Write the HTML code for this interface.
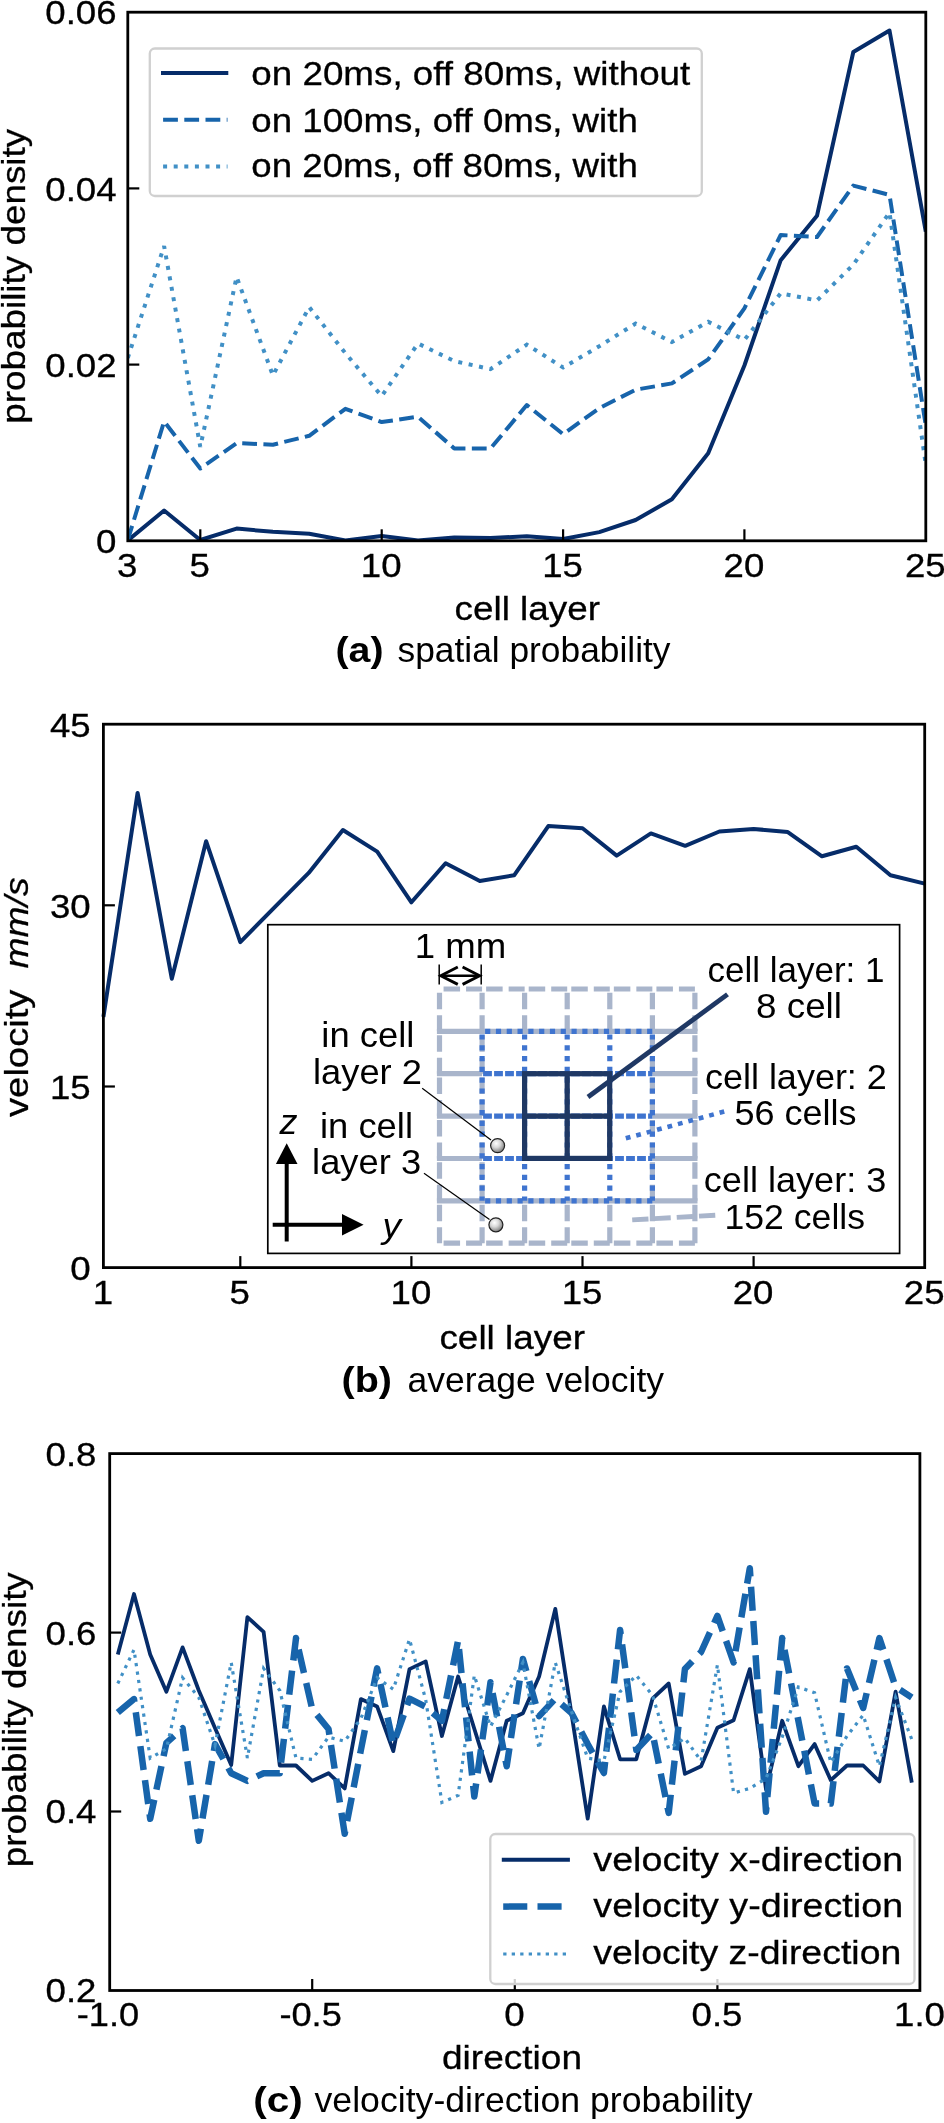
<!DOCTYPE html>
<html><head><meta charset="utf-8"><title>figure</title>
<style>html,body{margin:0;padding:0;background:#fff}svg{display:block;will-change:transform}text{font-family:"Liberation Sans",sans-serif;fill:#000}text.m{stroke:#000;stroke-width:0.3px}</style>
</head><body>
<svg width="944" height="2123" viewBox="0 0 944 2123">
<rect width="944" height="2123" fill="#fff"/>
<g id="chartA">
<clipPath id="ca"><rect x="127.8" y="12.2" width="798.0" height="528.6"/></clipPath>
<g clip-path="url(#ca)">
<path d="M127.8 540.5 L164.1 510.5 L200.3 540.0 L236.6 528.6 L272.9 531.8 L309.2 533.7 L345.4 540.5 L381.7 535.9 L418.0 540.5 L454.3 537.5 L490.5 538.0 L526.8 536.2 L563.1 539.0 L599.3 532.1 L635.6 520.0 L671.9 499.3 L708.2 453.3 L744.4 365.5 L780.7 260.2 L817.0 215.7 L853.3 52.0 L889.5 30.5 L925.8 231.6" fill="none" stroke="#062c69" stroke-width="4" stroke-linecap="butt" stroke-linejoin="round"/>
<path d="M127.8 540.0 L164.1 421.5 L200.3 468.5 L236.6 443.1 L272.9 444.7 L309.2 435.8 L345.4 408.8 L381.7 422.1 L418.0 416.7 L454.3 448.5 L490.5 448.5 L526.8 405.0 L563.1 434.2 L599.3 408.2 L635.6 389.7 L671.9 383.4 L708.2 359.4 L744.4 308.3 L780.7 235.0 L817.0 237.0 L853.3 185.6 L889.5 194.9 L925.8 425.6" fill="none" stroke="#1764ab" stroke-width="4" stroke-dasharray="14.8 6.4" stroke-linecap="butt" stroke-linejoin="round"/>
<path d="M127.8 358.0 L164.1 246.1 L200.3 446.9 L236.6 276.9 L272.9 375.4 L309.2 307.1 L345.4 353.2 L381.7 396.1 L418.0 343.5 L454.3 361.1 L490.5 369.1 L526.8 344.6 L563.1 367.5 L599.3 346.2 L635.6 323.6 L671.9 342.0 L708.2 321.8 L744.4 339.9 L780.7 293.3 L817.0 300.5 L853.3 264.7 L889.5 212.5 L925.8 464.7" fill="none" stroke="#4190c6" stroke-width="4" stroke-dasharray="4 6.6" stroke-linecap="butt" stroke-linejoin="miter"/>
</g>
<line x1="200.3" y1="540.8" x2="200.3" y2="529.3" stroke="#000" stroke-width="2.2"/>
<line x1="381.7" y1="540.8" x2="381.7" y2="529.3" stroke="#000" stroke-width="2.2"/>
<line x1="563.1" y1="540.8" x2="563.1" y2="529.3" stroke="#000" stroke-width="2.2"/>
<line x1="744.4" y1="540.8" x2="744.4" y2="529.3" stroke="#000" stroke-width="2.2"/>
<line x1="127.8" y1="188.4" x2="139.3" y2="188.4" stroke="#000" stroke-width="2.2"/>
<line x1="127.8" y1="364.6" x2="139.3" y2="364.6" stroke="#000" stroke-width="2.2"/>
<rect x="127.8" y="12.2" width="798.0" height="528.6" fill="none" stroke="#000" stroke-width="2.8"/>
<text class="m" x="127.3" y="576.5" text-anchor="middle" font-size="33.5" textLength="20.4" lengthAdjust="spacingAndGlyphs">3</text>
<text class="m" x="199.8" y="576.5" text-anchor="middle" font-size="33.5" textLength="20.4" lengthAdjust="spacingAndGlyphs">5</text>
<text class="m" x="381.2" y="576.5" text-anchor="middle" font-size="33.5" textLength="40.7" lengthAdjust="spacingAndGlyphs">10</text>
<text class="m" x="562.6" y="576.5" text-anchor="middle" font-size="33.5" textLength="40.7" lengthAdjust="spacingAndGlyphs">15</text>
<text class="m" x="743.9" y="576.5" text-anchor="middle" font-size="33.5" textLength="40.7" lengthAdjust="spacingAndGlyphs">20</text>
<text class="m" x="925.3" y="576.5" text-anchor="middle" font-size="33.5" textLength="40.7" lengthAdjust="spacingAndGlyphs">25</text>
<text class="m" x="116.5" y="24.3" text-anchor="end" font-size="33.5" textLength="71.2" lengthAdjust="spacingAndGlyphs">0.06</text>
<text class="m" x="116.5" y="200.5" text-anchor="end" font-size="33.5" textLength="71.2" lengthAdjust="spacingAndGlyphs">0.04</text>
<text class="m" x="116.5" y="376.7" text-anchor="end" font-size="33.5" textLength="71.2" lengthAdjust="spacingAndGlyphs">0.02</text>
<text class="m" x="116.5" y="552.9" text-anchor="end" font-size="33.5" textLength="20.4" lengthAdjust="spacingAndGlyphs">0</text>
<text class="m" x="527.3" y="619.6" text-anchor="middle" font-size="33.5" textLength="145.5" lengthAdjust="spacingAndGlyphs">cell layer</text>
<text class="m" x="25.0" y="276.3" text-anchor="middle" font-size="33.5" textLength="295.0" lengthAdjust="spacingAndGlyphs" transform="rotate(-90 25.0 276.3)">probability density</text>
<rect x="149.8" y="48.5" width="552" height="147.5" rx="5" ry="5" fill="#fff" fill-opacity="0.8" stroke="#d0d0d0" stroke-width="2.3"/>
<path d="M161.0 73.0 L228.3 73.0" fill="none" stroke="#062c69" stroke-width="4" stroke-linecap="butt" stroke-linejoin="miter"/>
<path d="M163.1 119.8 L227.5 119.8" fill="none" stroke="#1764ab" stroke-width="4" stroke-dasharray="14.8 6.4" stroke-linecap="butt" stroke-linejoin="miter"/>
<path d="M163.1 166.4 L227.5 166.4" fill="none" stroke="#4190c6" stroke-width="4" stroke-dasharray="4 6.6" stroke-linecap="butt" stroke-linejoin="miter"/>
<text class="m" x="251.3" y="85.3" text-anchor="start" font-size="33.5" textLength="439.0" lengthAdjust="spacingAndGlyphs">on 20ms, off 80ms, without</text>
<text class="m" x="251.3" y="131.6" text-anchor="start" font-size="33.5" textLength="386.5" lengthAdjust="spacingAndGlyphs">on 100ms, off 0ms, with</text>
<text class="m" x="251.3" y="177.4" text-anchor="start" font-size="33.5" textLength="386.5" lengthAdjust="spacingAndGlyphs">on 20ms, off 80ms, with</text>
<text x="335.5" y="661.5" text-anchor="start" font-size="35" textLength="48.0" lengthAdjust="spacingAndGlyphs" font-weight="bold">(a)</text>
<text x="397.5" y="661.5" text-anchor="start" font-size="35" textLength="273.0" lengthAdjust="spacingAndGlyphs">spatial probability</text>
</g>
<g id="chartB">
<path d="M103.4 1016.9 L137.6 792.9 L171.8 978.7 L206.1 841.2 L240.3 942.2 L274.5 907.3 L308.7 872.9 L342.9 830.0 L377.2 851.6 L411.4 902.3 L445.6 863.3 L479.8 881.0 L514.1 875.3 L548.3 826.1 L582.5 828.3 L616.7 855.6 L650.9 833.4 L685.2 845.8 L719.4 831.5 L753.6 828.9 L787.8 832.1 L822.0 856.3 L856.3 846.7 L890.5 875.3 L924.7 883.6" fill="none" stroke="#062c69" stroke-width="4" stroke-linecap="butt" stroke-linejoin="round"/>
<line x1="240.3" y1="1267.6" x2="240.3" y2="1256.1" stroke="#000" stroke-width="2.2"/>
<line x1="411.4" y1="1267.6" x2="411.4" y2="1256.1" stroke="#000" stroke-width="2.2"/>
<line x1="582.5" y1="1267.6" x2="582.5" y2="1256.1" stroke="#000" stroke-width="2.2"/>
<line x1="753.6" y1="1267.6" x2="753.6" y2="1256.1" stroke="#000" stroke-width="2.2"/>
<line x1="103.4" y1="905.3" x2="114.9" y2="905.3" stroke="#000" stroke-width="2.2"/>
<line x1="103.4" y1="1086.5" x2="114.9" y2="1086.5" stroke="#000" stroke-width="2.2"/>
<rect x="103.4" y="724.2" width="821.3" height="543.4" fill="none" stroke="#000" stroke-width="2.8"/>
<text class="m" x="102.9" y="1303.8" text-anchor="middle" font-size="33.5" textLength="20.4" lengthAdjust="spacingAndGlyphs">1</text>
<text class="m" x="239.8" y="1303.8" text-anchor="middle" font-size="33.5" textLength="20.4" lengthAdjust="spacingAndGlyphs">5</text>
<text class="m" x="410.9" y="1303.8" text-anchor="middle" font-size="33.5" textLength="40.7" lengthAdjust="spacingAndGlyphs">10</text>
<text class="m" x="582.0" y="1303.8" text-anchor="middle" font-size="33.5" textLength="40.7" lengthAdjust="spacingAndGlyphs">15</text>
<text class="m" x="753.1" y="1303.8" text-anchor="middle" font-size="33.5" textLength="40.7" lengthAdjust="spacingAndGlyphs">20</text>
<text class="m" x="924.2" y="1303.8" text-anchor="middle" font-size="33.5" textLength="40.7" lengthAdjust="spacingAndGlyphs">25</text>
<text class="m" x="90.6" y="736.5" text-anchor="end" font-size="33.5" textLength="40.7" lengthAdjust="spacingAndGlyphs">45</text>
<text class="m" x="90.6" y="917.6" text-anchor="end" font-size="33.5" textLength="40.7" lengthAdjust="spacingAndGlyphs">30</text>
<text class="m" x="90.6" y="1098.8" text-anchor="end" font-size="33.5" textLength="40.7" lengthAdjust="spacingAndGlyphs">15</text>
<text class="m" x="90.6" y="1279.9" text-anchor="end" font-size="33.5" textLength="20.4" lengthAdjust="spacingAndGlyphs">0</text>
<text class="m" x="512.2" y="1348.6" text-anchor="middle" font-size="33.5" textLength="145.5" lengthAdjust="spacingAndGlyphs">cell layer</text>
<text class="m" x="28.0" y="1117.0" text-anchor="start" font-size="33.5" textLength="127.5" lengthAdjust="spacingAndGlyphs" transform="rotate(-90 28.0 1117.0)">velocity</text>
<text class="m" x="28.0" y="968.5" text-anchor="start" font-size="33.5" textLength="91.0" lengthAdjust="spacingAndGlyphs" font-style="italic" transform="rotate(-90 28.0 968.5)">mm/s</text>
<text x="341.5" y="1392.3" text-anchor="start" font-size="35" textLength="50.5" lengthAdjust="spacingAndGlyphs" font-weight="bold">(b)</text>
<text x="407.5" y="1392.3" text-anchor="start" font-size="35" textLength="256.5" lengthAdjust="spacingAndGlyphs">average velocity</text>
<g id="inset">
<rect x="267.8" y="924.7" width="631.8" height="328.7" fill="#fff" stroke="#000" stroke-width="1.7"/>
<line x1="439.5" y1="989.0" x2="439.5" y2="1243.2" stroke="#a9b5cb" stroke-width="5.2" stroke-dasharray="16.5 6 16 3.87" stroke-dashoffset="38.5"/>
<line x1="482.1" y1="989.0" x2="482.1" y2="1243.2" stroke="#a9b5cb" stroke-width="5.2" stroke-dasharray="16.5 6 16 3.87" stroke-dashoffset="38.5"/>
<line x1="652.4" y1="989.0" x2="652.4" y2="1243.2" stroke="#a9b5cb" stroke-width="5.2" stroke-dasharray="16.5 6 16 3.87" stroke-dashoffset="38.5"/>
<line x1="694.9" y1="989.0" x2="694.9" y2="1243.2" stroke="#a9b5cb" stroke-width="5.2" stroke-dasharray="16.5 6 16 3.87" stroke-dashoffset="38.5"/>
<line x1="524.6" y1="989.0" x2="524.6" y2="1031.4" stroke="#a9b5cb" stroke-width="5.2" stroke-dasharray="16.5 6 16 3.87" stroke-dashoffset="38.5"/>
<line x1="524.6" y1="1200.8" x2="524.6" y2="1243.2" stroke="#a9b5cb" stroke-width="5.2" stroke-dasharray="16.5 6 16 3.87" stroke-dashoffset="38.5"/>
<line x1="567.2" y1="989.0" x2="567.2" y2="1031.4" stroke="#a9b5cb" stroke-width="5.2" stroke-dasharray="16.5 6 16 3.87" stroke-dashoffset="38.5"/>
<line x1="567.2" y1="1200.8" x2="567.2" y2="1243.2" stroke="#a9b5cb" stroke-width="5.2" stroke-dasharray="16.5 6 16 3.87" stroke-dashoffset="38.5"/>
<line x1="609.8" y1="989.0" x2="609.8" y2="1031.4" stroke="#a9b5cb" stroke-width="5.2" stroke-dasharray="16.5 6 16 3.87" stroke-dashoffset="38.5"/>
<line x1="609.8" y1="1200.8" x2="609.8" y2="1243.2" stroke="#a9b5cb" stroke-width="5.2" stroke-dasharray="16.5 6 16 3.87" stroke-dashoffset="38.5"/>
<line x1="439.5" y1="989.0" x2="694.9" y2="989.0" stroke="#a9b5cb" stroke-width="5.2" stroke-dasharray="16.5 6 16 4.07" stroke-dashoffset="38.5"/>
<line x1="439.5" y1="1243.2" x2="694.9" y2="1243.2" stroke="#a9b5cb" stroke-width="5.2" stroke-dasharray="16.5 6 16 4.07" stroke-dashoffset="38.5"/>
<line x1="436.9" y1="1031.4" x2="697.5" y2="1031.4" stroke="#a9b5cb" stroke-width="5.2" />
<line x1="436.9" y1="1200.8" x2="697.5" y2="1200.8" stroke="#a9b5cb" stroke-width="5.2" />
<line x1="436.9" y1="1073.7" x2="482.1" y2="1073.7" stroke="#a9b5cb" stroke-width="5.2" />
<line x1="652.4" y1="1073.7" x2="697.5" y2="1073.7" stroke="#a9b5cb" stroke-width="5.2" />
<line x1="436.9" y1="1116.1" x2="482.1" y2="1116.1" stroke="#a9b5cb" stroke-width="5.2" />
<line x1="652.4" y1="1116.1" x2="697.5" y2="1116.1" stroke="#a9b5cb" stroke-width="5.2" />
<line x1="436.9" y1="1158.5" x2="482.1" y2="1158.5" stroke="#a9b5cb" stroke-width="5.2" />
<line x1="652.4" y1="1158.5" x2="697.5" y2="1158.5" stroke="#a9b5cb" stroke-width="5.2" />
<line x1="482.1" y1="1031.4" x2="482.1" y2="1200.8" stroke="#3f74cf" stroke-width="5.2" stroke-dasharray="5.2 5.6" stroke-dashoffset="-3"/>
<line x1="524.6" y1="1031.4" x2="524.6" y2="1200.8" stroke="#3f74cf" stroke-width="5.2" stroke-dasharray="5.2 5.6" stroke-dashoffset="-3"/>
<line x1="567.2" y1="1031.4" x2="567.2" y2="1200.8" stroke="#3f74cf" stroke-width="5.2" stroke-dasharray="5.2 5.6" stroke-dashoffset="-3"/>
<line x1="609.8" y1="1031.4" x2="609.8" y2="1200.8" stroke="#3f74cf" stroke-width="5.2" stroke-dasharray="5.2 5.6" stroke-dashoffset="-3"/>
<line x1="652.4" y1="1031.4" x2="652.4" y2="1200.8" stroke="#3f74cf" stroke-width="5.2" stroke-dasharray="5.2 5.6" stroke-dashoffset="-3"/>
<line x1="482.1" y1="1031.4" x2="652.4" y2="1031.4" stroke="#3f74cf" stroke-width="5.2" stroke-dasharray="5.2 5.6" stroke-dashoffset="-3"/>
<line x1="482.1" y1="1200.8" x2="652.4" y2="1200.8" stroke="#3f74cf" stroke-width="5.2" stroke-dasharray="5.2 5.6" stroke-dashoffset="-3"/>
<line x1="482.1" y1="1073.7" x2="652.4" y2="1073.7" stroke="#3f74cf" stroke-width="5.2" stroke-dasharray="8.8 2.2" stroke-dashoffset="-1"/>
<line x1="482.1" y1="1116.1" x2="652.4" y2="1116.1" stroke="#3f74cf" stroke-width="5.2" stroke-dasharray="8.8 2.2" stroke-dashoffset="-1"/>
<line x1="482.1" y1="1158.5" x2="652.4" y2="1158.5" stroke="#3f74cf" stroke-width="5.2" stroke-dasharray="8.8 2.2" stroke-dashoffset="-1"/>
<rect x="524.6" y="1073.7" width="85.1" height="84.7" fill="none" stroke="#1f3864" stroke-width="5.2"/>
<line x1="567.2" y1="1073.7" x2="567.2" y2="1158.5" stroke="#1f3864" stroke-width="5.2"/>
<line x1="524.6" y1="1116.1" x2="609.8" y2="1116.1" stroke="#1f3864" stroke-width="5.2"/>
<path d="M588.0 1097.0 L727.5 994.4" fill="none" stroke="#1f3864" stroke-width="4.8" stroke-linecap="butt" stroke-linejoin="miter"/>
<path d="M625.8 1138.3 L725.4 1111.2" fill="none" stroke="#3f74cf" stroke-width="4.6" stroke-dasharray="4.8 6" stroke-linecap="butt" stroke-linejoin="miter"/>
<path d="M632.2 1219.9 L716.0 1215.2" fill="none" stroke="#a9b5cb" stroke-width="4.8" stroke-dasharray="16.3 6" stroke-linecap="butt" stroke-linejoin="miter"/>
<g stroke="#000" fill="none">
<line x1="439.2" y1="964.5" x2="439.2" y2="984.6" stroke-width="1.5"/><line x1="481.2" y1="964.5" x2="481.2" y2="984.6" stroke-width="1.5"/>
<line x1="442" y1="975.7" x2="478.5" y2="975.7" stroke-width="2.6"/>
<polyline points="457.8,967 440.8,975.7 457.8,984.4" stroke-width="2.9"/>
<polyline points="462.6,967 479.6,975.7 462.6,984.4" stroke-width="2.9"/>
</g>
<text x="414.8" y="958.0" text-anchor="start" font-size="35" textLength="91.5" lengthAdjust="spacingAndGlyphs">1 mm</text>
<text x="321.3" y="1046.8" text-anchor="start" font-size="35" textLength="93.0" lengthAdjust="spacingAndGlyphs">in cell</text>
<text x="313.0" y="1083.7" text-anchor="start" font-size="35" textLength="109.0" lengthAdjust="spacingAndGlyphs">layer 2</text>
<text x="320.0" y="1137.8" text-anchor="start" font-size="35" textLength="93.0" lengthAdjust="spacingAndGlyphs">in cell</text>
<text x="312.1" y="1174.3" text-anchor="start" font-size="35" textLength="109.0" lengthAdjust="spacingAndGlyphs">layer 3</text>
<text x="707.5" y="982.4" text-anchor="start" font-size="35" textLength="177.0" lengthAdjust="spacingAndGlyphs">cell layer: 1</text>
<text x="756.0" y="1018.4" text-anchor="start" font-size="35" textLength="86.0" lengthAdjust="spacingAndGlyphs">8 cell</text>
<text x="704.9" y="1089.4" text-anchor="start" font-size="35" textLength="182.0" lengthAdjust="spacingAndGlyphs">cell layer: 2</text>
<text x="734.5" y="1125.4" text-anchor="start" font-size="35" textLength="122.0" lengthAdjust="spacingAndGlyphs">56 cells</text>
<text x="703.8" y="1192.1" text-anchor="start" font-size="35" textLength="182.5" lengthAdjust="spacingAndGlyphs">cell layer: 3</text>
<text x="724.5" y="1228.6" text-anchor="start" font-size="35" textLength="140.5" lengthAdjust="spacingAndGlyphs">152 cells</text>
<line x1="422.2" y1="1088.2" x2="491" y2="1140" stroke="#000" stroke-width="1.2"/>
<line x1="424" y1="1173.2" x2="489.5" y2="1219.5" stroke="#000" stroke-width="1.2"/>
<defs><radialGradient id="ball" cx="40%" cy="35%" r="65%"><stop offset="0" stop-color="#fff"/><stop offset="0.45" stop-color="#d9d9d9"/><stop offset="1" stop-color="#7f7f7f"/></radialGradient></defs>
<circle cx="497.6" cy="1145.6" r="7" fill="url(#ball)" stroke="#222" stroke-width="1.2"/>
<circle cx="495.9" cy="1224.8" r="7" fill="url(#ball)" stroke="#222" stroke-width="1.2"/>
<g stroke="#000" stroke-width="4" fill="#000">
<line x1="286.7" y1="1241.5" x2="286.7" y2="1162"/><line x1="272.7" y1="1224.8" x2="344" y2="1224.8"/>
<path d="M286.7 1143.2 L297.5 1164 L275.9 1164 Z" stroke="none"/>
<path d="M363.6 1224.8 L342 1235.6 L342 1214 Z" stroke="none"/>
</g>
<text x="279.5" y="1133.6" text-anchor="start" font-size="35" textLength="18.0" lengthAdjust="spacingAndGlyphs" font-style="italic">z</text>
<text x="382.5" y="1237.7" text-anchor="start" font-size="35" textLength="18.5" lengthAdjust="spacingAndGlyphs" font-style="italic">y</text>
</g>
</g>
<g id="chartC">
<path d="M117.8 1654.4 L134.0 1594.0 L150.2 1654.4 L166.4 1691.7 L182.6 1647.4 L198.8 1690.5 L215.0 1728.0 L231.2 1765.1 L247.4 1617.1 L263.6 1631.8 L279.8 1765.5 L296.0 1765.5 L312.2 1780.9 L328.5 1773.2 L344.7 1788.4 L360.9 1699.1 L377.1 1706.4 L393.3 1751.1 L409.5 1669.1 L425.7 1661.4 L441.9 1736.0 L458.1 1676.5 L474.3 1728.7 L490.5 1780.9 L506.7 1720.8 L522.9 1713.3 L539.1 1676.5 L555.3 1608.9 L571.5 1713.8 L587.7 1818.7 L603.9 1706.4 L620.1 1759.3 L636.3 1759.3 L652.5 1698.7 L668.7 1683.5 L684.9 1773.9 L701.1 1766.2 L717.4 1727.8 L733.6 1720.3 L749.8 1669.1 L766.0 1789.5 L782.2 1720.8 L798.4 1766.2 L814.6 1744.1 L830.8 1780.2 L847.0 1765.5 L863.2 1765.5 L879.4 1781.4 L895.6 1691.7 L911.8 1782.6" fill="none" stroke="#062c69" stroke-width="3.8" stroke-linecap="butt" stroke-linejoin="round"/>
<path d="M117.8 1712.6 L134.0 1699.1 L150.2 1818.7 L166.4 1742.9 L182.6 1728.3 L198.8 1840.8 L215.0 1744.1 L231.2 1773.2 L247.4 1780.9 L263.6 1773.2 L279.8 1773.2 L296.0 1638.1 L312.2 1709.1 L328.5 1729.0 L344.7 1833.8 L360.9 1750.0 L377.1 1668.4 L393.3 1744.1 L409.5 1698.7 L425.7 1706.8 L441.9 1720.8 L458.1 1640.4 L474.3 1796.5 L490.5 1682.3 L506.7 1766.2 L522.9 1659.0 L539.1 1716.1 L555.3 1698.7 L571.5 1713.0 L587.7 1744.1 L603.9 1773.0 L620.1 1629.9 L636.3 1749.9 L652.5 1732.9 L668.7 1812.9 L684.9 1669.1 L701.1 1652.0 L717.4 1615.9 L733.6 1662.5 L749.8 1568.2 L766.0 1811.7 L782.2 1638.1 L798.4 1720.8 L814.6 1803.5 L830.8 1803.5 L847.0 1668.4 L863.2 1708.0 L879.4 1638.1 L895.6 1687.0 L911.8 1697.5" fill="none" stroke="#1764ab" stroke-width="6.5" stroke-dasharray="24 10.3" stroke-linecap="butt" stroke-linejoin="round"/>
<path d="M117.8 1683.5 L134.0 1649.7 L150.2 1758.1 L166.4 1748.8 L182.6 1677.7 L198.8 1697.5 L215.0 1745.3 L231.2 1662.5 L247.4 1758.1 L263.6 1668.4 L279.8 1690.5 L296.0 1758.1 L312.2 1759.3 L328.5 1737.1 L344.7 1741.3 L360.9 1718.5 L377.1 1677.7 L393.3 1689.3 L409.5 1639.2 L425.7 1699.8 L441.9 1802.4 L458.1 1795.4 L474.3 1675.4 L490.5 1726.6 L506.7 1695.2 L522.9 1662.5 L539.1 1748.8 L555.3 1662.5 L571.5 1711.5 L587.7 1758.1 L603.9 1760.9 L620.1 1691.7 L636.3 1675.4 L652.5 1695.2 L668.7 1748.8 L684.9 1738.3 L701.1 1760.9 L717.4 1664.9 L733.6 1793.0 L749.8 1788.4 L766.0 1778.6 L782.2 1737.1 L798.4 1687.0 L814.6 1692.8 L830.8 1762.7 L847.0 1736.0 L863.2 1715.0 L879.4 1766.2 L895.6 1697.5 L911.8 1739.4" fill="none" stroke="#4190c6" stroke-width="3.2" stroke-dasharray="3.2 5.3" stroke-linecap="butt" stroke-linejoin="miter"/>
<line x1="312.2" y1="1990.5" x2="312.2" y2="1979.0" stroke="#000" stroke-width="2.2"/>
<line x1="514.8" y1="1990.5" x2="514.8" y2="1979.0" stroke="#000" stroke-width="2.2"/>
<line x1="717.4" y1="1990.5" x2="717.4" y2="1979.0" stroke="#000" stroke-width="2.2"/>
<line x1="109.7" y1="1632.6" x2="121.2" y2="1632.6" stroke="#000" stroke-width="2.2"/>
<line x1="109.7" y1="1811.5" x2="121.2" y2="1811.5" stroke="#000" stroke-width="2.2"/>
<rect x="109.7" y="1453.6" width="810.2" height="536.9" fill="none" stroke="#000" stroke-width="2.8"/>
<text class="m" x="108.0" y="2026.0" text-anchor="middle" font-size="33.5" textLength="62.4" lengthAdjust="spacingAndGlyphs">-1.0</text>
<text class="m" x="310.6" y="2026.0" text-anchor="middle" font-size="33.5" textLength="62.4" lengthAdjust="spacingAndGlyphs">-0.5</text>
<text class="m" x="514.4" y="2026.0" text-anchor="middle" font-size="33.5" textLength="20.4" lengthAdjust="spacingAndGlyphs">0</text>
<text class="m" x="717.0" y="2026.0" text-anchor="middle" font-size="33.5" textLength="50.9" lengthAdjust="spacingAndGlyphs">0.5</text>
<text class="m" x="919.5" y="2026.0" text-anchor="middle" font-size="33.5" textLength="50.9" lengthAdjust="spacingAndGlyphs">1.0</text>
<text class="m" x="96.5" y="1465.5" text-anchor="end" font-size="33.5" textLength="50.9" lengthAdjust="spacingAndGlyphs">0.8</text>
<text class="m" x="96.5" y="1644.5" text-anchor="end" font-size="33.5" textLength="50.9" lengthAdjust="spacingAndGlyphs">0.6</text>
<text class="m" x="96.5" y="1823.4" text-anchor="end" font-size="33.5" textLength="50.9" lengthAdjust="spacingAndGlyphs">0.4</text>
<text class="m" x="96.5" y="2002.4" text-anchor="end" font-size="33.5" textLength="50.9" lengthAdjust="spacingAndGlyphs">0.2</text>
<text class="m" x="512.0" y="2069.3" text-anchor="middle" font-size="33.5" textLength="140.0" lengthAdjust="spacingAndGlyphs">direction</text>
<text class="m" x="25.6" y="1719.7" text-anchor="middle" font-size="33.5" textLength="295.0" lengthAdjust="spacingAndGlyphs" transform="rotate(-90 25.6 1719.7)">probability density</text>
<rect x="490.3" y="1834" width="424.2" height="150" rx="5" ry="5" fill="#fff" fill-opacity="0.8" stroke="#d0d0d0" stroke-width="2.3"/>
<path d="M501.8 1859.7 L569.9 1859.7" fill="none" stroke="#062c69" stroke-width="4" stroke-linecap="butt" stroke-linejoin="miter"/>
<path d="M503.2 1906.6 L569.5 1906.6" fill="none" stroke="#1764ab" stroke-width="6.5" stroke-dasharray="24.1 10.2" stroke-linecap="butt" stroke-linejoin="miter"/>
<path d="M503.2 1954.0 L569.5 1954.0" fill="none" stroke="#4190c6" stroke-width="3.2" stroke-dasharray="3.3 5.2" stroke-linecap="butt" stroke-linejoin="miter"/>
<text class="m" x="593.3" y="1871.0" text-anchor="start" font-size="33.5" textLength="309.8" lengthAdjust="spacingAndGlyphs">velocity x-direction</text>
<text class="m" x="593.3" y="1917.2" text-anchor="start" font-size="33.5" textLength="309.8" lengthAdjust="spacingAndGlyphs">velocity y-direction</text>
<text class="m" x="593.3" y="1964.0" text-anchor="start" font-size="33.5" textLength="308.0" lengthAdjust="spacingAndGlyphs">velocity z-direction</text>
<text x="253.2" y="2111.5" text-anchor="start" font-size="35" textLength="49.5" lengthAdjust="spacingAndGlyphs" font-weight="bold">(c)</text>
<text x="314.5" y="2111.5" text-anchor="start" font-size="35" textLength="438.0" lengthAdjust="spacingAndGlyphs">velocity-direction probability</text>
</g>
</svg></body></html>
